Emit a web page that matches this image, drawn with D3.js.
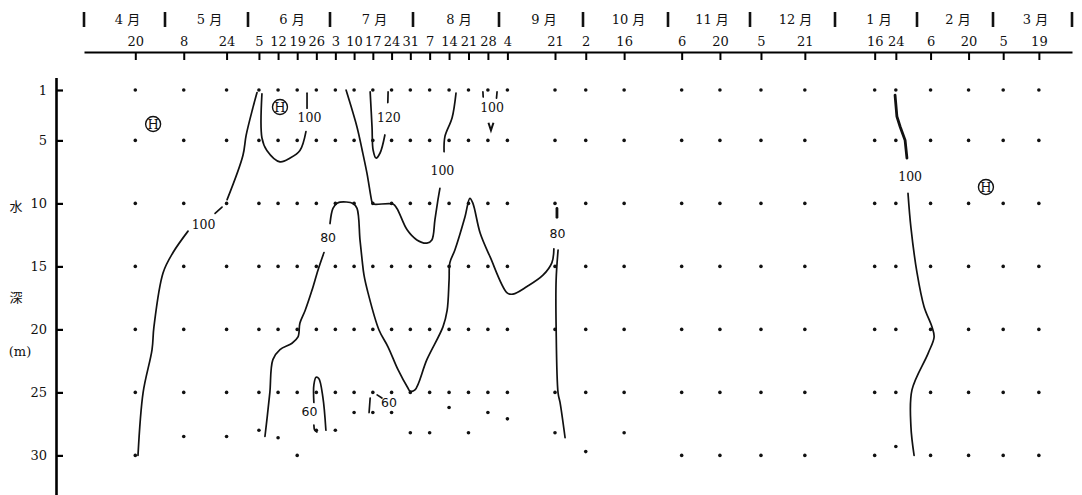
<!DOCTYPE html>
<html>
<head>
<meta charset="utf-8">
<script src="https://cdn.jsdelivr.net/npm/d3@7"></script>
<style>
  body { margin: 0; background: #fff; }
  text { fill: #111; }
</style>
</head>
<body>
<svg id="chart" width="1082" height="495"></svg>
<script>
// --- données ---
// dates de prélèvement (l'année n'est pas indiquée, 1978-79 choisie)
const sampleDates = ["1978-04-20","1978-05-08","1978-05-24","1978-06-05","1978-06-12","1978-06-19","1978-06-26",
  "1978-07-03","1978-07-10","1978-07-17","1978-07-24","1978-07-31","1978-08-07","1978-08-14","1978-08-21",
  "1978-08-28","1978-09-04","1978-09-21","1978-10-02","1978-10-16","1978-11-06","1978-11-20","1978-12-05",
  "1978-12-21","1979-01-16","1979-01-24","1979-02-06","1979-02-20","1979-03-05","1979-03-19"];
const standardDepths = [1, 5, 10, 15, 20, 25];
const bottomDepths = [30,28.5,28.5,28,28.6,30,28,28,26.6,26.6,26.6,28.2,28.2,26.2,28.2,26.6,27.1,28.2,29.7,28.2,30,30,30,30,30,29.3,30,30,30,30];
const depthTicks = [1, 5, 10, 15, 20, 25, 30];
const monthNames = ["4 月","5 月","6 月","7 月","8 月","9 月","10 月","11 月","12 月","1 月","2 月","3 月"];

// isoplèthes : [jours depuis le 1er avril, profondeur m]
const iso100a = [[20.0,30.0],[21.9,25.0],[25.2,21.6],[25.9,19.8],[29.3,15.5],[33.0,13.9],[38.6,12.2]];
const iso100aDash = [[48.7,10.8],[51.3,10.3]];
const iso100aTop = [[53.2,9.7],[59.1,6.2],[60.3,4.6],[62.8,2.4],[64.3,1.2]];
const iso100b = [[66.1,1.3],[66.1,4.8],[67.9,5.8],[72.7,6.7],[76.4,6.4],[80.0,5.8],[82.2,4.3]];
const iso100bTop = [[82.6,1.25],[82.6,2.45]];
const iso100c = [[97.0,1.0],[101.1,3.95],[103.0,5.76],[104.8,7.6],[106.3,9.5],[106.7,9.9],[107.1,10.05],
  [114.5,10.05],[116.0,10.4],[119.8,12.1],[123.4,12.9],[127.0,13.15],[128.8,12.9],[129.9,11.3],[131.0,9.7],[131.7,8.8]];
const iso100cTop = [[133.2,5.9],[133.5,4.7],[136.1,3.2],[137.5,1.25]];
const iso120 = [[106.0,1.15],[106.7,3.95],[107.1,5.76],[108.2,6.4],[109.7,6.0],[111.5,4.57]];
const iso120Top = [[112.7,1.15],[112.6,2.0]];
const iso100eL = [[147.2,1.15],[147.3,1.55]];
const iso100eR = [[152.3,1.15],[152.1,1.65]];
const iso100eV = [[149.2,3.6],[150.1,4.2],[151.0,3.6]];
const iso80a = [[67.2,28.5],[68.0,27.0],[69.0,25.0],[70.1,22.4],[72.7,21.6],[77.1,21.1],[79.3,20.6],[80.0,19.5],
  [81.9,18.5],[84.4,16.9],[86.6,15.3],[88.8,13.9]];
const iso80b = [[91.0,11.6],[92.1,10.4],[93.6,10.0],[94.7,9.9],[99.6,10.0],[101.1,10.4],[102.2,12.9],[103.0,14.5],
  [103.7,15.7],[105.2,17.1],[109.3,20.05],[112.7,21.4],[116.4,23.2],[120.1,24.65],[120.9,24.9],[122.7,24.8],
  [127.0,22.4],[132.8,19.8],[134.3,18.5],[135.0,16.1],[135.3,14.7],[137.1,13.7],[140.7,11.1],[142.5,9.6],
  [143.6,10.0],[146.2,12.35],[149.8,14.25],[155.9,17.1],[158.0,17.2],[163.0,16.6],[168.7,15.7],[171.9,14.7],[172.6,13.6]];
const iso80Top = [[173.7,10.4],[173.7,11.1]];
const iso80c = [[174.1,13.7],[173.4,16.1],[173.4,19.8],[174.1,25.05],[174.8,25.8],[176.6,28.6]];
const iso60a = [[85.1,25.8],[85.1,24.4],[85.9,23.8],[86.9,23.9],[88.4,25.4],[89.5,28.0]];
const iso60aHook = [[85.1,27.6],[85.4,28.0],[86.2,28.15]];
const iso60b1 = [[106.0,25.45],[105.6,26.6]];
const iso60b2 = [[108.6,25.2],[110.4,25.45]];
const iso100w1 = [[297.7,1.4],[298.4,3.1],[299.6,3.9],[301.5,5.0],[302.2,6.4]];
const iso100w2 = [[302.6,9.2],[303.7,11.9],[306.0,15.5],[308.6,18.2],[311.5,19.8],[312.3,20.6],[310.1,21.9],
  [304.1,24.8],[303.7,27.7],[304.9,30.0]];

const isoLabels = [["100",44.4,11.7],["100",83.5,3.2],["120",113.0,3.2],["100",150.5,2.4],["100",132.6,7.4],
  ["80",90.3,12.7],["80",173.9,12.35],["60",83.5,26.5],["60",113.0,25.8],["100",303.4,7.9]];
const highMarks = [[25.6,3.7],[72.7,2.35],[331.4,8.7]];

// --- échelles ---
const parse = d3.utcParse("%Y-%m-%d");
const start = Date.UTC(1978, 3, 1);
const dayToDate = d => new Date(start + d * 864e5);
const monthStarts = d3.utcMonth.range(new Date(start), new Date(Date.UTC(1979, 3, 2)));
const monthPx = [84,165,248,330,413,499,583,668,750,835,917,993,1072];

const x = d3.scaleUtc().domain(monthStarts).range(monthPx);
const y = d3.scaleLinear().domain([0, 33.2]).range([77.4, 495.7]);

const svg = d3.select("#chart");
const serif = "'DejaVu Serif', 'Noto Sans CJK JP', serif";

// axe du haut (dates)
const topAxis = svg.append("g")
  .attr("transform", "translate(0,52)")
  .call(d3.axisTop(x).tickValues(sampleDates.map(parse))
    .tickFormat(d3.utcFormat("%-d")).tickSizeInner(-8).tickSizeOuter(0).tickPadding(6));
topAxis.select(".domain").attr("stroke-width", 2.2);
topAxis.selectAll(".tick line").attr("stroke-width", 2);
topAxis.selectAll("text").style("font-family", serif).style("font-size", "13px").attr("fill", "#111");

// séparateurs de mois et noms
svg.selectAll(".mbar").data(monthStarts).enter().append("line")
  .attr("x1", d => x(d)).attr("x2", d => x(d)).attr("y1", 12).attr("y2", 27)
  .attr("stroke", "#111").attr("stroke-width", 2.6);
svg.selectAll(".mname").data(monthNames).enter().append("text")
  .attr("x", (d, i) => (x(monthStarts[i]) + x(monthStarts[i + 1])) / 2 + 3)
  .attr("y", 24).attr("text-anchor", "middle")
  .style("font-family", serif).style("font-size", "13px").text(d => d);

// axe de profondeur
const leftAxis = svg.append("g")
  .attr("transform", "translate(56,0)")
  .call(d3.axisLeft(y).tickValues(depthTicks).tickSizeInner(-7).tickSizeOuter(0).tickPadding(9));
leftAxis.select(".domain").attr("stroke-width", 2.6);
leftAxis.selectAll(".tick line").attr("stroke-width", 2.2);
leftAxis.selectAll("text").style("font-family", serif).style("font-size", "13px").attr("fill", "#111");

const ylab = svg.append("g").style("font-family", serif).style("font-size", "13px");
ylab.append("text").attr("x", 16).attr("y", 211).attr("text-anchor", "middle").text("水");
ylab.append("text").attr("x", 16).attr("y", 302).attr("text-anchor", "middle").text("深");
ylab.append("text").attr("x", 20).attr("y", 356).attr("text-anchor", "middle").text("(m)");

// points de prélèvement
const samples = [];
sampleDates.forEach((s, i) => {
  standardDepths.concat([bottomDepths[i]]).forEach(dep => samples.push({date: parse(s), depth: dep}));
});
svg.selectAll(".pt").data(samples).enter().append("circle")
  .attr("cx", d => x(d.date)).attr("cy", d => y(d.depth)).attr("r", 1.8).attr("fill", "#111");

// isoplèthes
const line = d3.line().x(d => x(dayToDate(d[0]))).y(d => y(d[1])).curve(d3.curveCatmullRom.alpha(0.5));
const thin = [iso100a, iso100aDash, iso100aTop, iso100b, iso100bTop, iso100c, iso100cTop, iso120, iso120Top,
  iso100eL, iso100eR, iso80a, iso80b, iso80c, iso60a, iso60aHook, iso60b1, iso60b2, iso100w2];
svg.selectAll(".iso").data(thin).enter().append("path")
  .attr("d", line).attr("fill", "none").attr("stroke", "#111").attr("stroke-width", 1.7)
  .attr("stroke-linecap", "round");
svg.selectAll(".isoh").data([iso100w1, iso80Top]).enter().append("path")
  .attr("d", d3.line().x(d => x(dayToDate(d[0]))).y(d => y(d[1])))
  .attr("fill", "none").attr("stroke", "#111").attr("stroke-width", 2.8).attr("stroke-linecap", "round");
svg.append("path").datum(iso100eV)
  .attr("d", d3.line().x(d => x(dayToDate(d[0]))).y(d => y(d[1])))
  .attr("fill", "none").attr("stroke", "#111").attr("stroke-width", 2);

svg.selectAll(".isolab").data(isoLabels).enter().append("text")
  .attr("x", d => x(dayToDate(d[1]))).attr("y", d => y(d[2]))
  .attr("text-anchor", "middle").attr("dy", "0.36em")
  .style("font-family", d => d[0] === "100" || d[0] === "120" ? serif : "'DejaVu Sans', sans-serif")
  .style("font-size", "12.5px").text(d => d[0]);

// symboles Ⓗ
const hm = svg.selectAll(".hm").data(highMarks).enter().append("g")
  .attr("transform", d => `translate(${x(dayToDate(d[0]))},${y(d[1])})`);
hm.append("circle").attr("r", 7.5).attr("fill", "none").attr("stroke", "#111").attr("stroke-width", 1.4);
hm.append("text").attr("text-anchor", "middle").attr("dy", "0.36em")
  .style("font-family", serif).style("font-size", "13px").text("H");
</script>
</body>
</html>
